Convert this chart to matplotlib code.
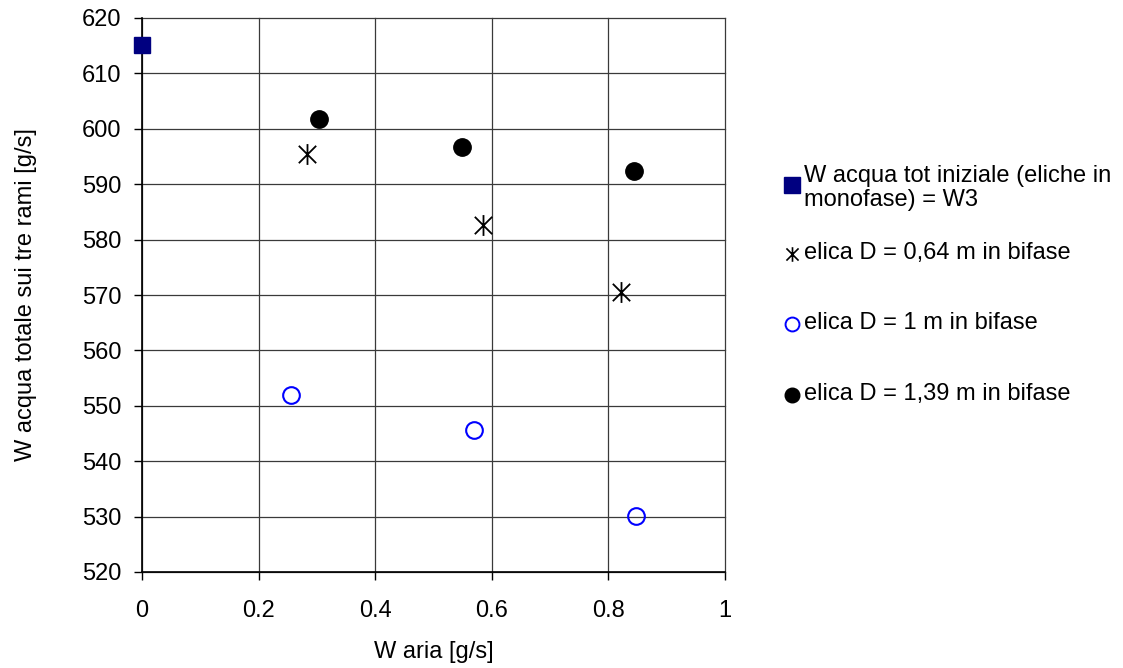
import matplotlib
matplotlib.use("Agg")
import matplotlib.pyplot as plt
from matplotlib.lines import Line2D
from matplotlib.path import Path

plt.rcParams['font.family'] = ['Liberation Sans', 'DejaVu Sans']

# Data
init_x = [0.0]
init_y = [615.2]
d064_x = [0.283, 0.585, 0.822]
d064_y = [595.4, 582.6, 570.5]
d1_x = [0.256, 0.569, 0.847]
d1_y = [551.9, 545.7, 530.1]
d139_x = [0.304, 0.549, 0.844]
d139_y = [601.8, 596.8, 592.3]

labels = ["W acqua tot iniziale (eliche in\nmonofase) = W3",
          "elica D = 0,64 m in bifase",
          "elica D = 1 m in bifase",
          "elica D = 1,39 m in bifase"]

xticks = [0, 0.2, 0.4, 0.6, 0.8, 1]
xticklabels = ["0", "0.2", "0.4", "0.6", "0.8", "1"]
yticks = list(range(520, 621, 10))

FS = 17

# Excel-style star marker: X plus vertical line
star_path = Path([(-1, -1), (1, 1), (-1, 1), (1, -1), (0, -1.2), (0, 1.2)],
                 [Path.MOVETO, Path.LINETO, Path.MOVETO, Path.LINETO, Path.MOVETO, Path.LINETO])

fig = plt.figure(figsize=(11.23, 6.68), dpi=100)
ax = fig.add_axes([142/1123, 1-572/668, (725-142)/1123, (572-18)/668])

ax.set_xlim(0, 1)
ax.set_ylim(520, 620)
ax.set_xticks(xticks)
ax.set_xticklabels(xticklabels)
ax.set_yticks(yticks)
ax.grid(True, color='#3a3a3a', linewidth=0.9)
ax.set_axisbelow(True)
for gl in ax.get_xgridlines() + ax.get_ygridlines():
    gl.set_clip_on(False)
for s in ['top', 'right']:
    ax.spines[s].set_visible(False)
for s in ['left', 'bottom']:
    ax.spines[s].set_color('black')
    ax.spines[s].set_linewidth(1.2)
ax.tick_params(direction='out', length=6, width=1, labelsize=FS)
ax.tick_params(axis='x', pad=14)
ax.tick_params(axis='y', pad=9)

ax.plot(init_x, init_y, linestyle='none', marker='s', markersize=12,
        color='#000080', clip_on=False, zorder=5)
ax.plot(d064_x, d064_y, linestyle='none', marker=star_path, markersize=15,
        markeredgewidth=1.3, color='black', zorder=5)
ax.plot(d1_x, d1_y, linestyle='none', marker='o', markersize=12,
        markerfacecolor='none', markeredgecolor='#0000ff', markeredgewidth=1.5, zorder=5)
ax.plot(d139_x, d139_y, linestyle='none', marker='o', markersize=12.5,
        color='black', zorder=5)

ax.set_xlabel("W aria [g/s]", fontsize=FS, labelpad=14)
ax.set_ylabel("W acqua totale sui tre rami [g/s]", fontsize=FS, labelpad=32)

# Manual legend
W, H = 1123, 668
def fx(px): return px / W
def fy(py): return 1 - py / H

entries = [
    (185, dict(marker='s', markersize=11, color='#000080', linestyle='none')),
    (254, dict(marker=star_path, markersize=10.5, markeredgewidth=1.2, color='black', linestyle='none')),
    (324, dict(marker='o', markersize=10, markerfacecolor='none', markeredgecolor='#0000ff',
               markeredgewidth=1.4, linestyle='none')),
    (395, dict(marker='o', markersize=10.5, color='black', linestyle='none')),
]
for (py, kw), lab in zip(entries, labels):
    fig.add_artist(Line2D([fx(792)], [fy(py)], transform=fig.transFigure, **kw))
    if '\n' in lab:
        fig.text(fx(804), fy(188), lab, fontsize=FS, va='center', ha='left',
                 linespacing=1.08, transform=fig.transFigure)
    else:
        fig.text(fx(804), fy(py - 1), lab, fontsize=FS, va='center', ha='left',
                 transform=fig.transFigure)

fig.savefig("out.png", dpi=100)
